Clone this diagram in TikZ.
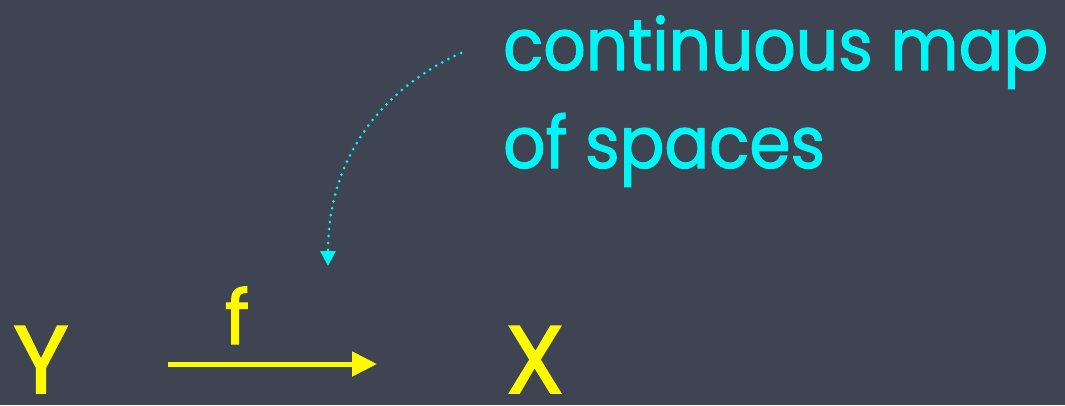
\documentclass[tikz,border=0pt]{standalone}
\usepackage{fontspec}
\setmainfont{Poppins}[FakeBold=1.6]
\newfontfamily\cyfont{Poppins}[FakeBold=1.6,FakeStretch=0.92]
\usetikzlibrary{arrows.meta}
\definecolor{bg}{RGB}{62,68,82}
\definecolor{cy}{RGB}{0,245,245}
\definecolor{ye}{RGB}{255,250,0}
\tikzset{
  cytext/.style={text=cy, inner sep=0pt, font=\cyfont\fontsize{72}{98}\selectfont},
  yetext/.style={text=ye, inner sep=0pt, font=\fontsize{96}{110}\selectfont},
  ftext/.style={text=ye, inner sep=0pt, font=\fontsize{75}{80}\selectfont},
  maparrow/.style={draw=ye, line width=5pt, -{Triangle[length=25pt,width=24pt]}},
  hintarrow/.style={draw=cy, line width=3pt, line cap=round, dash pattern=on 0pt off 7pt, -{Triangle[length=15pt,width=15pt]}}
}
\begin{document}
\begin{tikzpicture}[x=1pt,y=-1pt]
\fill[bg] (0,0) rectangle (1065,405);
\useasboundingbox (0,0) rectangle (1065,405);
\node[cytext, anchor=base west] (l1) at (503,70) {continuous map};
\node[cytext, anchor=base west] (l2) at (503,168) {of spaces};
\node[yetext, anchor=base] (Y) at (41,393) {Y};
\node[yetext, anchor=base] (X) at (535,393) {X};
\node[ftext, anchor=base] (f) at (237,344) {f};
\coordinate (a1) at (168,364);
\coordinate (a2) at (377,364);
\draw[maparrow] (a1) -- (a2);
\coordinate (h1) at (461,53);
\coordinate (h2) at (328,266);
\draw[hintarrow] (h1) .. controls (390,85) and (328,150) .. (h2);
\end{tikzpicture}
\end{document}
